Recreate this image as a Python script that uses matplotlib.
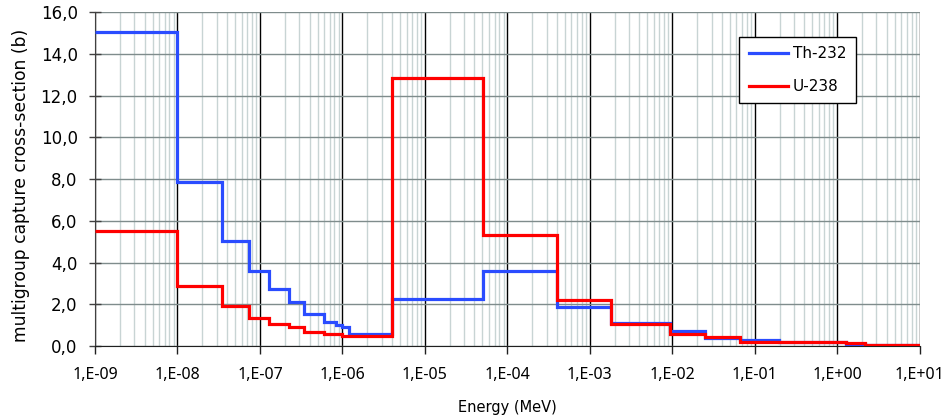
import matplotlib
matplotlib.use('Agg')
import matplotlib.pyplot as plt
import matplotlib.ticker as ticker
import numpy as np

# group boundaries (MeV) and group values (b)
th_edges = [1e-9, 1e-8, 3.44e-8, 7.41e-8, 1.30e-7, 2.26e-7, 3.44e-7, 6.02e-7,
            8.27e-7, 1.0e-6, 1.2e-6, 3.95e-6, 5.1e-5, 4.06e-4, 1.83e-3, 9.3e-3,
            2.48e-2, 6.6e-2, 0.195, 1.27, 2.2, 10]
th_values = [15.05, 7.85, 5.05, 3.6, 2.75, 2.1, 1.55, 1.17, 1.0, 0.9, 0.6,
             2.28, 3.6, 1.85, 1.12, 0.72, 0.4, 0.27, 0.18, 0.12, 0.05]

u_edges = [1e-9, 1e-8, 3.44e-8, 7.41e-8, 1.30e-7, 2.26e-7, 3.44e-7, 6.02e-7,
           1.0e-6, 3.95e-6, 5.1e-5, 4.06e-4, 1.83e-3, 9.3e-3, 2.48e-2, 6.6e-2,
           1.27, 2.2, 10]
u_values = [5.5, 2.9, 1.92, 1.37, 1.04, 0.9, 0.69, 0.57, 0.49, 12.85, 5.3,
            2.2, 1.05, 0.6, 0.42, 0.19, 0.13, 0.06]

xticks = [1e-9, 1e-8, 1e-7, 1e-6, 1e-5, 1e-4, 1e-3, 1e-2, 1e-1, 1e0, 1e1]
xticklabels = ['1,E-09', '1,E-08', '1,E-07', '1,E-06', '1,E-05', '1,E-04',
               '1,E-03', '1,E-02', '1,E-01', '1,E+00', '1,E+01']
yticks = [0, 2, 4, 6, 8, 10, 12, 14, 16]
yticklabels = ['0,0', '2,0', '4,0', '6,0', '8,0', '10,0', '12,0', '14,0', '16,0']

fig = plt.figure(figsize=(9.5, 4.19), dpi=100)
ax = fig.add_axes([0.1, 0.174, 0.868, 0.797])

ax.stairs(th_values, th_edges, color='#2a4cff', linewidth=2.3, label='Th-232', baseline=None, zorder=3)
ax.stairs(u_values, u_edges, color='#ff0000', linewidth=2.3, label='U-238', baseline=None, zorder=4)

ax.set_xscale('log')
ax.set_xlim(1e-9, 10)
ax.set_ylim(0, 16)
ax.set_xticks(xticks)
ax.set_xticklabels(xticklabels, fontfamily='Noto Sans')
ax.set_yticks(yticks)
ax.set_yticklabels(yticklabels)

minor = [m * d for d in xticks[:-1] for m in range(2, 10)]
ax.set_xticks(minor, minor=True)
ax.set_xticklabels([], minor=True)

ax.grid(True, which='minor', axis='x', color='#c8d4d4', linewidth=1.0, zorder=0)
ax.grid(True, which='major', axis='x', color='black', linewidth=1.0, zorder=1)
ax.grid(True, which='major', axis='y', color='#7f8c8c', linewidth=1.0, zorder=1)
ax.set_axisbelow(True)

for s in ['top', 'right']:
    ax.spines[s].set_visible(False)
ax.spines['left'].set_color('#404040')
ax.spines['bottom'].set_color('#202020')

ax.tick_params(axis='x', which='major', direction='out', length=6, width=1, labelsize=11.5, pad=9, color='#202020')
ax.tick_params(axis='x', which='minor', length=0)
ax.tick_params(axis='y', which='major', direction='inout', length=9, width=1, labelsize=12, pad=8, color='#404040')

ax.set_xlabel('Energy (MeV)', fontsize=10.5, labelpad=12)
ax.set_ylabel('multigroup capture cross-section (b)', fontsize=12.3)
ax.yaxis.set_label_coords(-0.079, 0.48)

leg = ax.legend(loc='upper right', bbox_to_anchor=(0.9224, 0.925), fontsize=11, frameon=True,
                fancybox=False, edgecolor='black', framealpha=1, handlelength=2.6,
                borderpad=0.6, labelspacing=1.15, handletextpad=0.3, borderaxespad=0)
leg.get_frame().set_linewidth(1.0)

plt.savefig('out.png', dpi=100)
